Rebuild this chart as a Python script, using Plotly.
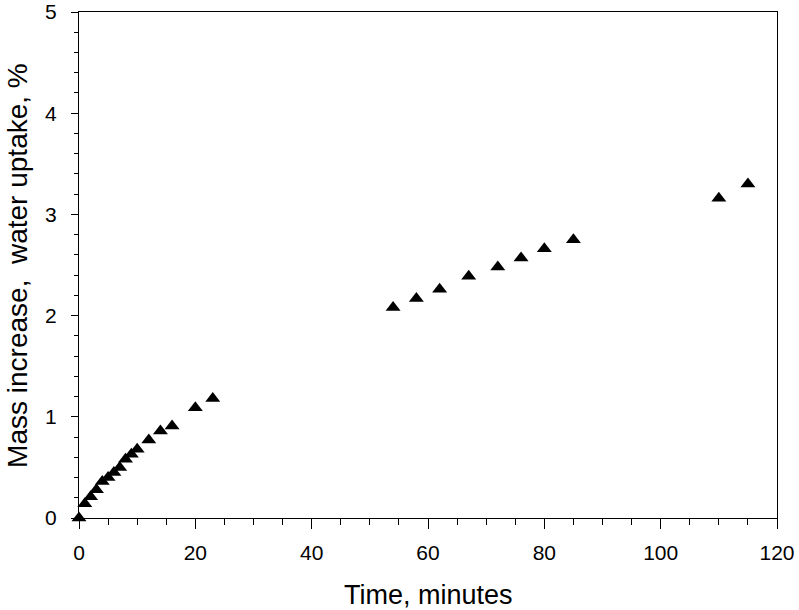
import plotly.graph_objects as go

time_min = [0, 1, 2, 3, 4, 5, 6, 7, 8, 9, 10, 12, 14, 16, 20, 23,
            54, 58, 62, 67, 72, 76, 80, 85, 110, 115]
mass_pct = [0, 0.14, 0.21, 0.28, 0.36, 0.40, 0.45, 0.50, 0.58, 0.63, 0.68, 0.77,
            0.86, 0.91, 1.09, 1.18, 2.08, 2.17, 2.26, 2.39, 2.48, 2.57, 2.66,
            2.75, 3.16, 3.30]
x_ticks = [0, 20, 40, 60, 80, 100, 120]
y_ticks = [0, 1, 2, 3, 4, 5]

FONT = 'Liberation Sans, Arial, sans-serif'

fig = go.Figure()
fig.add_trace(go.Scatter(
    x=time_min,
    y=mass_pct,
    mode='markers',
    marker=dict(symbol='triangle-up', size=13, color='black'),
    cliponaxis=False,
    showlegend=False,
))

tick_font = dict(family=FONT, size=21, color='black')
fig.update_xaxes(
    range=[0, 120], tickvals=x_ticks,
    ticks='outside', ticklen=10, tickwidth=1, tickcolor='black',
    minor=dict(dtick=5, ticks='outside', ticklen=6, tickcolor='black'),
    showline=True, linecolor='black', linewidth=1, mirror=True,
    showgrid=False, zeroline=False, tickfont=tick_font,
    ticklabelstandoff=6, automargin=False,
)
fig.update_yaxes(
    range=[0, 5], tickvals=y_ticks,
    ticks='outside', ticklen=7, tickwidth=1, tickcolor='black',
    minor=dict(dtick=0.2, ticks='outside', ticklen=4, tickcolor='black'),
    showline=True, linecolor='black', linewidth=1, mirror=True,
    showgrid=False, zeroline=False, tickfont=tick_font,
    ticklabelstandoff=10, automargin=False,
)

# axis titles as annotations for exact placement
fig.add_annotation(text='Time, minutes', xref='paper', yref='paper',
                   x=0.5, y=-0.153, yanchor='middle', showarrow=False,
                   font=dict(family=FONT, size=27, color='black'))
fig.add_annotation(text='Mass increase,  water uptake, %', xref='paper', yref='paper',
                   x=-0.089, y=0.5, textangle=-90, xanchor='center', showarrow=False,
                   font=dict(family=FONT, size=28, color='black'))

fig.update_layout(
    width=799, height=610,
    margin=dict(l=79, r=22, t=12, b=92),
    paper_bgcolor='white', plot_bgcolor='white',
)
# drop the default 8px body margin so the figure sits at the page origin
fig.write_html('out.html', config={'displayModeBar': False},
               post_script="document.body.style.margin='0';")
